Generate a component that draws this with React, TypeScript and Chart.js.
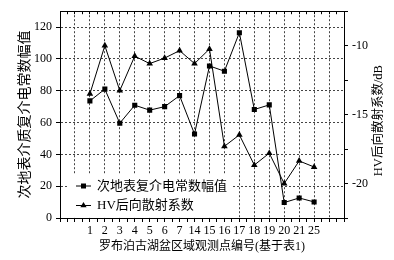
import React, { useEffect, useRef } from 'react';
import { Chart, registerables } from 'chart.js';

Chart.register(...registerables);

// ---- data ----
const categories = ['1', '2', '3', '4', '5', '6', '7', '14', '15', '16', '17', '18', '19', '20', '21', '25'];
const permittivity = [73.6, 81, 59.6, 70.9, 67.8, 70, 76.9, 52.8, 95.6, 92.3, 116.5, 68.2, 71.1, 9.7, 12.6, 10.1];
const hvBackscatter = [-13.5, -10.0, -13.26, -10.76, -11.3, -10.9, -10.36, -11.3, -10.24, -17.3, -16.47, -18.66, -17.8, -20.0, -18.36, -18.8];
const seriesNames = ['次地表复介电常数幅值', 'HV后向散射系数'];
const xTitle = '罗布泊古湖盆区域观测点编号(基于表1)';
const yLeftTitle = '次地表介质复介电常数幅值';
const yRightTitle = 'HV后向散射系数/dB';

const FONT = "'Liberation Serif', 'Noto Sans CJK SC', serif";
const X_OFFSET = 2; // empty slots before the first category
const X_MAX = categories.length + 3;

const gridColor = '#444';

const drawMarker = (ctx: CanvasRenderingContext2D, style: string, x: number, y: number) => {
  ctx.beginPath();
  if (style === 'rect') {
    ctx.rect(x - 2.5, y - 2.5, 5, 5);
  } else {
    const r = 3.6;
    ctx.moveTo(x, y - r);
    ctx.lineTo(x + r * 0.866, y + r * 0.5);
    ctx.lineTo(x - r * 0.866, y + r * 0.5);
    ctx.closePath();
  }
  ctx.fill();
};

const innerLegend = {
  id: 'innerLegend',
  beforeDatasetsDraw(chart: any) {
    const { ctx, chartArea } = chart;
    ctx.save();
    ctx.fillStyle = '#fff';
    ctx.fillRect(chartArea.left + 8, chartArea.bottom - 43, 164, 42.5);
    ctx.strokeStyle = '#000';
    ctx.fillStyle = '#000';
    ctx.lineWidth = 1;
    ctx.font = `13px ${FONT}`;
    ctx.textBaseline = 'middle';
    chart.data.datasets.forEach((ds: any, i: number) => {
      const y = chartArea.bottom - 32 + i * 19.5;
      const x0 = chartArea.left + 16;
      ctx.beginPath();
      ctx.moveTo(x0, y);
      ctx.lineTo(x0 + 15, y);
      ctx.stroke();
      drawMarker(ctx, ds.pointStyle, x0 + 7.5, y);
      ctx.fillText(ds.label, x0 + 21, y + 0.5);
    });
    ctx.restore();
  },
};

const rightTitle = {
  id: 'rightTitle',
  afterDraw(chart: any) {
    const { ctx, chartArea } = chart;
    ctx.save();
    ctx.translate(379, (chartArea.top + chartArea.bottom) / 2 + 6);
    ctx.rotate(-Math.PI / 2);
    ctx.font = `12.5px ${FONT}`;
    ctx.fillStyle = '#000';
    ctx.textAlign = 'center';
    ctx.textBaseline = 'middle';
    ctx.fillText(yRightTitle, 0, 0);
    ctx.restore();
  },
};

export default function App() {
  const ref = useRef<HTMLCanvasElement>(null);

  useEffect(() => {
    if (!ref.current) return;
    const tickFont = { family: FONT, size: 12 };
    const chart = new Chart(ref.current, {
      type: 'line',
      data: {
        datasets: [
          {
            label: seriesNames[0],
            data: permittivity.map((v, i) => ({ x: i + X_OFFSET, y: v })),
            yAxisID: 'y',
            xAxisID: 'x',
            borderColor: '#000',
            backgroundColor: '#000',
            borderWidth: 1,
            pointStyle: 'rect',
            pointRadius: 3.6,
            pointBorderWidth: 0,
            tension: 0,
          },
          {
            label: seriesNames[1],
            data: hvBackscatter.map((v, i) => ({ x: i + X_OFFSET, y: v })),
            yAxisID: 'y1',
            xAxisID: 'x',
            borderColor: '#000',
            backgroundColor: '#000',
            borderWidth: 1,
            pointStyle: 'triangle',
            pointRadius: 3.8,
            pointBorderWidth: 0,
            tension: 0,
          },
        ],
      },
      options: {
        responsive: false,
        animation: false,
        layout: { padding: 0 },
        plugins: {
          legend: { display: false },
          tooltip: { enabled: false },
        },
        scales: {
          x: {
            type: 'linear',
            position: 'bottom',
            min: 0,
            max: X_MAX,
            afterFit: (s: any) => { s.height = 42; },
            ticks: {
              stepSize: 0.5,
              autoSkip: false,
              maxRotation: 0,
              minRotation: 0,
              padding: 2,
              color: '#000',
              font: tickFont,
              callback: (v: any) => {
                const n = Number(v);
                const idx = n - X_OFFSET;
                return Number.isInteger(n) && idx >= 0 && idx < categories.length ? categories[idx] : '';
              },
            },
            grid: {
              color: (c: any) => {
                const v = c.tick?.value;
                return Number.isInteger(v) && v > 0 && v < X_MAX ? gridColor : 'rgba(0,0,0,0)';
              },
              tickColor: '#000',
              tickLength: 4,
              lineWidth: 1,
            },
            border: { display: true, color: '#000', width: 1, dash: [2, 2] },
            title: {
              display: true,
              text: xTitle,
              color: '#000',
              font: { family: FONT, size: 12 },
              padding: { top: 0, bottom: 6 },
            },
          },
          x2: {
            type: 'linear',
            position: 'top',
            min: 0,
            max: X_MAX,
            afterFit: (s: any) => { s.height = 7; },
            ticks: { display: false, stepSize: 0.5, autoSkip: false },
            grid: { drawOnChartArea: false, tickColor: '#000', tickLength: -3 },
            border: { display: true, color: '#000', width: 1 },
          },
          y: {
            type: 'linear',
            position: 'left',
            min: 0,
            max: 130,
            afterFit: (s: any) => { s.width = 60; },
            ticks: {
              stepSize: 10,
              padding: 4,
              color: '#000',
              font: tickFont,
              callback: (v: any) => (Number(v) % 20 === 0 ? String(v) : ''),
            },
            grid: {
              color: (c: any) => {
                const v = c.tick?.value;
                return v % 20 === 0 && v > 0 && v < 130 ? gridColor : 'rgba(0,0,0,0)';
              },
              tickColor: '#000',
              tickLength: 4,
            },
            border: { display: true, color: '#000', width: 1, dash: [2, 2] },
            title: {
              display: true,
              text: yLeftTitle,
              color: '#000',
              font: { family: FONT, size: 14 },
              padding: { top: 16.5, bottom: 0 },
            },
          },
          y1: {
            type: 'linear',
            position: 'right',
            min: -22.5,
            max: -7.5,
            afterFit: (s: any) => { s.width = 50; },
            ticks: {
              stepSize: 2.5,
              padding: 4,
              color: '#000',
              font: tickFont,
              callback: (v: any) => (Number(v) % 5 === 0 ? String(v) : ''),
            },
            grid: { drawOnChartArea: false, tickColor: '#000', tickLength: 4 },
            border: { display: true, color: '#000', width: 1 },
          },
        },
      },
      plugins: [innerLegend, rightTitle],
    } as any);
    return () => chart.destroy();
  }, []);

  return (
    <div style={{ position: 'absolute', left: 0, top: 0, width: 394, height: 260, background: '#fff' }}>
      <canvas ref={ref} width={394} height={260} style={{ display: 'block' }} />
    </div>
  );
}
